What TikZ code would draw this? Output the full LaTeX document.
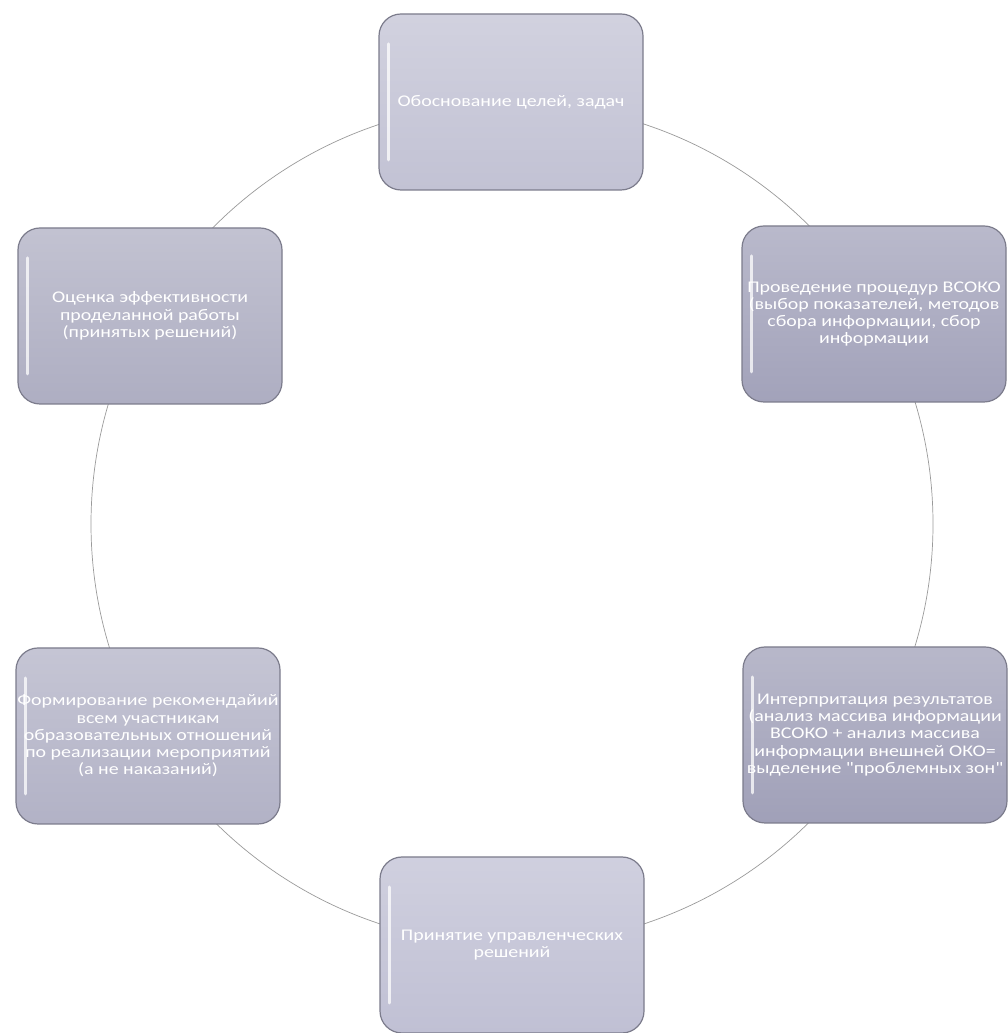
\documentclass[tikz,border=0pt]{standalone}
\usepackage{fontspec}
\setmainfont{Carlito}[FakeStretch=1.22, Ligatures=TeXOff]
\definecolor{cA}{HTML}{C2C2D4}
\definecolor{cB}{HTML}{A2A2BA}
\definecolor{cC}{HTML}{A0A0B8}
\definecolor{cD}{HTML}{C0C0D4}
\definecolor{cE}{HTML}{B2B2C6}
\definecolor{cF}{HTML}{AEAEC2}
\definecolor{boxedge}{HTML}{7C7C8C}
\definecolor{cycline}{HTML}{9A9A9A}
\tikzset{
  cyc/.style={draw=cycline, line width=0.7pt},
  box/.style={rectangle, rounded corners=22pt, minimum width=264pt, minimum height=176pt,
    inner sep=0pt, draw=boxedge, line width=1.2pt, text=white, align=center,
    font=\fontsize{16.3}{17.2}\selectfont,
    top color=#1!75!white, bottom color=#1,
    path picture={\draw[white, opacity=.75, line width=3pt, line cap=round]
      ([xshift=9pt,yshift=-30pt]path picture bounding box.north west) --
      ([xshift=9pt,yshift=30pt]path picture bounding box.south west);}}
}
\begin{document}
\begin{tikzpicture}[x=1pt,y=1pt]
\useasboundingbox[fill=white] (0,0) rectangle (1008,1033);
\coordinate (ctr) at (512,509);
\draw[cyc] (ctr) circle (421);
\node[box=cA] (a) at (511,931) {Обоснование целей, задач};
\node[box=cB] (b) at (874,719) {Проведение процедур ВСОКО\\(выбор показателей, методов\\сбора информации, сбор\\информации};
\node[box=cC] (c) at (875,298) {Интерпритация результатов\\(анализ массива информации\\ВСОКО + анализ массива\\информации внешней ОКО=\\выделение "проблемных зон"};
\node[box=cD] (d) at (512,88) {Принятие управленческих\\решений};
\node[box=cE] (e) at (148,297) {Формирование рекомендайий\\всем участникам\\образовательных отношений\\по реализации мероприятий\\(а не наказаний)};
\node[box=cF] (f) at (150,717) {Оценка эффективности\\проделанной работы\\(принятых решений)};
\end{tikzpicture}
\end{document}
